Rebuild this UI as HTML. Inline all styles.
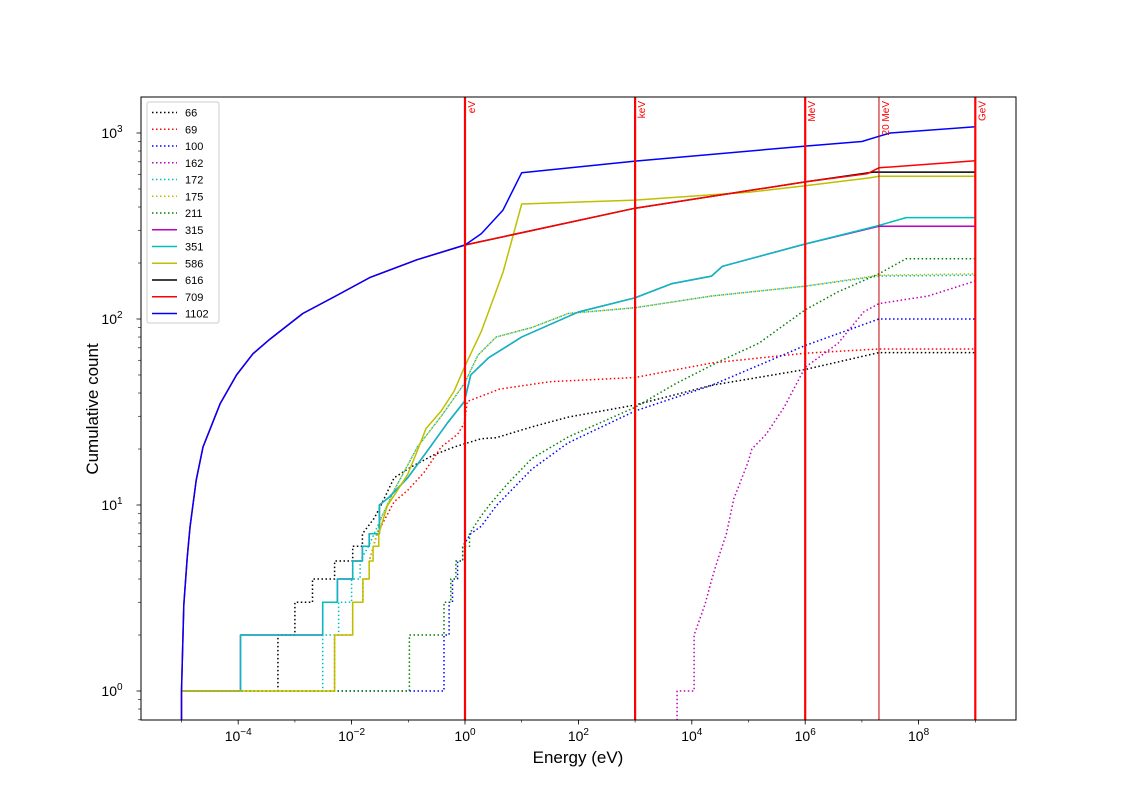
<!DOCTYPE html>
<html><head><meta charset="utf-8"><style>
body{margin:0;background:#fff}
svg{display:block;font-family:"Liberation Sans","DejaVu Sans",sans-serif}
</style></head><body>
<svg id="chart" width="1127" height="808" viewBox="0 0 1127 808" xmlns="http://www.w3.org/2000/svg">
<rect width="1127" height="808" fill="#fff"/>
<defs><clipPath id="clip"><rect x="141" y="97" width="875" height="623"/></clipPath></defs>
<g id="marks" clip-path="url(#clip)"></g>
<g id="vlines"></g>
<rect x="141" y="97" width="875" height="623" fill="none" stroke="#000" stroke-width="1"/>
<g id="axes"></g>
<text x="578" y="763" font-size="17" text-anchor="middle">Energy (eV)</text>
<text transform="translate(98,409) rotate(-90)" font-size="17" text-anchor="middle">Cumulative count</text>
<g id="legend"></g>
</svg>
<script>
// ---- data (log10 energy, cumulative count) ----
const e1102=[-5,-5,-4.96,-4.90,-4.85,-4.74,-4.62,-4.32,-4.03,-3.74,-3.44,-2.86,-2.26,-1.68,-0.85,0,0.29,0.67,1.0,3.0,6.0,7.0,7.3,7.5,9.0];
const c1102=[0.6,1,2.9,5.2,7.6,13.6,20.5,35,50,65,78,107,134,167,208,250,288,385,612,706,850,900,960,1000,1080];
const e709=[-5,-5,-4.96,-4.90,-4.85,-4.74,-4.62,-4.32,-4.03,-3.74,-3.44,-2.86,-2.26,-1.68,-0.85,0,3.0,6.0,7.1,7.3,9.0];
const c709=[0.6,1,2.9,5.2,7.6,13.6,20.5,35,50,65,78,107,134,167,208,250,394,546,605,650,709];
const e616=[0,3.0,6.0,7.2,9.0];
const c616=[250,394,546,616,616];
const e586=[-5,-2.30,-2.30,-1.98,-1.98,-1.80,-1.80,-1.69,-1.69,-1.62,-1.62,-1.52,-1.52,-1.37,-1.19,-1.01,-0.84,-0.69,-0.42,-0.19,-0.01,0.29,0.67,1.0,3.0,5.0,6.0,7.15,7.3,9.0];
const c586=[1,1,2,2,3,3,4,4,5,5,6,6,7,9.9,12,14.6,19.6,25.7,32,41,55,86,178,415,436,480,520,575,586,586];
const e351=[-5,-3.96,-3.96,-2.51,-2.51,-2.25,-2.25,-1.98,-1.98,-1.81,-1.81,-1.69,-1.69,-1.51,-1.51,-1.34,-1.01,-0.66,-0.31,-0.01,0.10,0.42,1.0,2.0,3.0,3.65,4.35,4.54,6.0,7.3,7.78,9.0];
const c351=[1,1,2,2,3,3,4,4,5,5,6,6,7,7,10,11,14,19.6,27.6,36,50,62,80,109,130,155,170,192,253,318,351,351];
const e315=[-5,-3.96,-3.96,-2.51,-2.51,-2.25,-2.25,-1.98,-1.98,-1.81,-1.81,-1.69,-1.69,-1.51,-1.51,-1.34,-1.01,-0.66,-0.31,-0.01,0.10,0.42,1.0,2.0,3.0,3.65,4.35,4.54,6.0,7.3,9.0];
const c315=[1,1,2,2,3,3,4,4,5,5,6,6,7,7,10,11,14,19.6,27.6,36,50,62,80,109,130,155,170,192,253,315,315];
const e66=[-5,-3.30,-3.30,-3.0,-3.0,-2.69,-2.69,-2.30,-2.30,-1.98,-1.98,-1.81,-1.81,-1.60,-1.48,-1.25,-0.95,-0.55,-0.19,0.28,0.55,1.18,1.82,3.0,4.35,6.0,7.3,9.0];
const c66=[1,1,2,2,3,3,4,4,5,5,6,6,7,8.5,10,14,16,18.6,20.5,22.7,23,26.3,29.7,34.5,44,53.5,66,66];
const e69=[-5,-2.30,-2.30,-1.98,-1.98,-1.80,-1.80,-1.69,-1.69,-1.55,-1.25,-1.01,-0.72,-0.42,-0.13,-0.01,0.04,0.61,1.5,3.0,4.35,6.0,7.3,9.0];
const c69=[1,1,2,2,3,3,4,4,5,7,10.4,12,15,20.5,24,27.6,36,42,46,48.5,58,65.5,69,69];
const e172=[-5,-2.51,-2.51,-2.23,-2.23,-2.00,-2.00,-1.85,-1.85,-1.70,-1.48,-1.25,-0.84,-0.42,-0.01,0.23,0.55,1.18,1.82,3.0,4.35,6.0,7.3,9.0];
const c172=[1,1,2,2,3,3,4,4,5,6,8.5,12,20.5,30,45,64,80,90,107,115,133,150,170,172];
const e175=[-5,-2.30,-2.30,-1.98,-1.98,-1.80,-1.80,-1.69,-1.69,-1.48,-1.25,-0.84,-0.42,-0.01,0.23,0.55,1.18,1.82,3.0,4.35,6.0,7.3,9.0];
const c175=[1,1,2,2,3,3,4,4,5,8.5,12,20.5,30,45,64,80,90,107,115,133,150,172,175];
const e211=[-5,-0.98,-0.98,-0.37,-0.37,-0.25,-0.25,-0.16,-0.16,-0.04,-0.04,0.08,0.08,0.28,0.42,0.74,1.18,1.82,3.0,3.72,4.48,5.18,6.0,6.58,7.3,7.78,9.0];
const c211=[1,1,2,2,3,3,4,4,5,5,6,6,7,8.7,9.9,12.9,17.8,23.2,33.5,45,59,74,112,140,175,211,211];
const e100=[-5,-0.37,-0.37,-0.28,-0.28,-0.22,-0.22,-0.13,-0.13,-0.04,-0.04,0.1,0.29,0.55,1.18,1.82,3.0,4.35,6.0,7.3,9.0];
const c100=[1,1,2,2,3,3,4,4,5,5,6,7,7.7,9.9,15.6,21.6,32,44,72,100,100];
const e162=[3.74,3.74,4.04,4.04,4.23,4.35,4.45,4.61,4.74,4.99,5.06,5.31,5.63,6.0,6.58,7.03,7.3,8.17,9.0];
const c162=[0.6,1,1,2,2.9,3.95,5,7,10.8,16.9,20,24,33.6,55,74,109,121,133,160];
const seriesNames=["66","69","100","162","172","175","211","315","351","586","616","709","1102"];
const xTickExps=[-4,-2,0,2,4,6,8];
const yTickExps=[0,1,2,3];
const markerE=[0,3,6,7.30103,9];
const markerLabels=["eV","keV","MeV","20 MeV","GeV"];

// ---- axes ----
const X0=465, PXD=56.7, Y0=691, PYD=186;
const xs=l=>X0+l*PXD;
const ys=c=>Y0-Math.log10(c)*PYD;
const NS="http://www.w3.org/2000/svg";
function mk(tag,attrs,parent){const el=document.createElementNS(NS,tag);for(const k in attrs)el.setAttribute(k,attrs[k]);parent.appendChild(el);return el;}

const styles={
"66":["#000000",true],"69":["#ff0000",true],"100":["#0000ff",true],"162":["#bf00bf",true],
"172":["#00bfbf",true],"175":["#bfbf00",true],"211":["#008000",true],"315":["#bf00bf",false],
"351":["#00bfbf",false],"586":["#bfbf00",false],"616":["#000000",false],"709":["#ff0000",false],"1102":["#0000ff",false]};
const dataE={"66":e66,"69":e69,"100":e100,"162":e162,"172":e172,"175":e175,"211":e211,"315":e315,"351":e351,"586":e586,"616":e616,"709":e709,"1102":e1102};
const dataC={"66":c66,"69":c69,"100":c100,"162":c162,"172":c172,"175":c175,"211":c211,"315":c315,"351":c351,"586":c586,"616":c616,"709":c709,"1102":c1102};

const marks=document.getElementById('marks');
seriesNames.forEach(n=>{
  const E=dataE[n],C=dataC[n];
  const pts=E.map((e,i)=>xs(e).toFixed(1)+','+ys(C[i]).toFixed(1)).join(' ');
  const [col,dot]=styles[n];
  const p=mk('polyline',{points:pts,fill:'none',stroke:col,'stroke-width':1.5,'stroke-linejoin':'round'},marks);
  if(dot)p.setAttribute('stroke-dasharray','1.5,2.5');
  
  
});

const vl=document.getElementById('vlines');
markerE.forEach((e,i)=>{
  const x=xs(e);
  const thin=markerLabels[i]==="20 MeV";
  const l=mk('line',{x1:x,x2:x,y1:97,y2:720,stroke:thin?'#c00000':'#ff0000','stroke-width':thin?1:2.2},vl);
  
  
  const t=mk('text',{transform:`translate(${x+10},101) rotate(-90)`,'font-size':10,fill:'#ff0000','text-anchor':'end'},vl);
  t.textContent=markerLabels[i];
  
  
});

const ax=document.getElementById('axes');
for(let d=-5;d<=9;d++){
  const x=xs(d);if(x>=141&&x<=1016)mk('line',{x1:x,x2:x,y1:720,y2:722.5,stroke:'#000','stroke-width':0.6},ax);
}
xTickExps.forEach(e=>{
  const x=xs(e);
  mk('line',{x1:x,x2:x,y1:720,y2:724.5,stroke:'#000','stroke-width':0.8},ax);
  const t=mk('text',{x:x,y:741,'font-size':14,'text-anchor':'middle'},ax);
  t.innerHTML='10<tspan dy="-6" font-size="10">'+(e<0?'\u2212'+(-e):e)+'</tspan>';
  
  
});
for(let d=-1;d<=3;d++){
  for(let m=2;m<10;m++){
    const y=ys(m*Math.pow(10,d));
    if(y<97||y>720)continue;
    mk('line',{x1:141,x2:138,y1:y,y2:y,stroke:'#000','stroke-width':0.6},ax);
  }
}
yTickExps.forEach(e=>{
  const y=ys(Math.pow(10,e));
  mk('line',{x1:141,x2:136.5,y1:y,y2:y,stroke:'#000','stroke-width':0.8},ax);
  const t=mk('text',{x:112,y:y+5,'font-size':14,'text-anchor':'middle'},ax);
  t.innerHTML='10<tspan dy="-6" font-size="10">'+e+'</tspan>';
  
  
});

const lg=document.getElementById('legend');
const box=mk('rect',{x:147,y:102,width:72,height:221,rx:2,fill:'#fff','fill-opacity':0.8,stroke:'#ccc','stroke-width':1},lg);


seriesNames.forEach((n,i)=>{
  const y=112.5+i*16.75;
  const [col,dot]=styles[n];
  const l=mk('line',{x1:152,x2:177,y1:y,y2:y,stroke:col,'stroke-width':1.5},lg);
  if(dot)l.setAttribute('stroke-dasharray','1.5,2.5');
  
  
  const t=mk('text',{x:185,y:y+4,'font-size':11},lg);
  t.textContent=n;
  
  
});
</script>
</body></html>
